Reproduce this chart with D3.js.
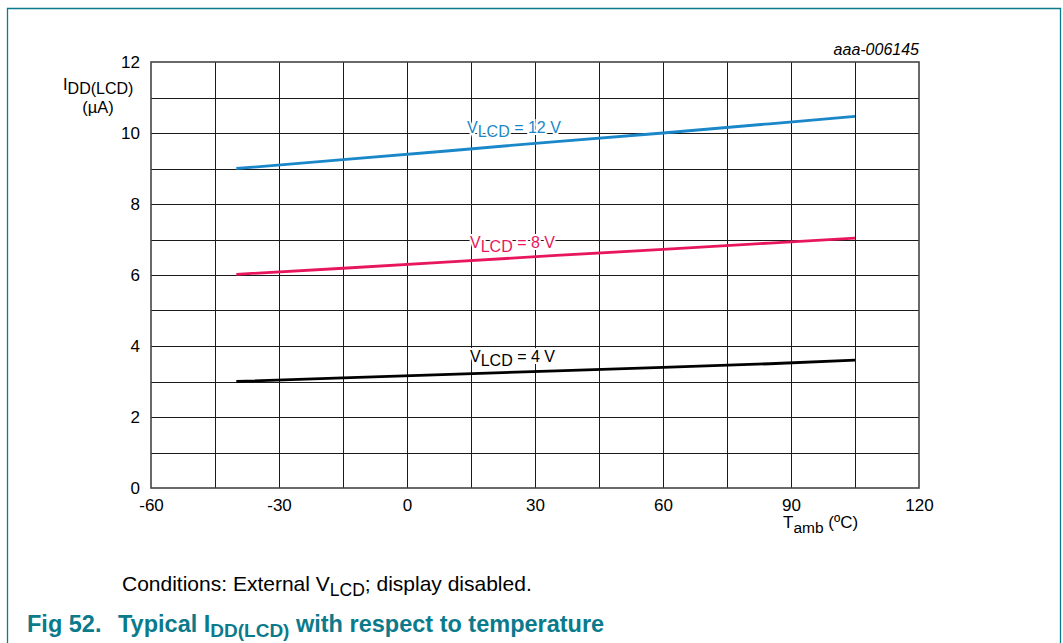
<!DOCTYPE html>
<html>
<head>
<meta charset="utf-8">
<script src="https://cdn.jsdelivr.net/npm/d3@7"></script>
<style>
  body { margin: 0; background: #fff; }
  svg { display: block; font-family: 'Liberation Sans', Arial, sans-serif; }
</style>
</head>
<body>
<div id="chart"></div>
<script>
// temperatures (ºC) and I_DD(LCD) readings (µA) for each V_LCD
const temps = [-40, -15, 10, 35, 60, 85, 105]
const v12 = [9.0, 9.25, 9.5, 9.76, 10.0, 10.26, 10.47]
const v8 = [6.02, 6.19, 6.37, 6.55, 6.72, 6.9, 7.04]
const v4 = [3.0, 3.1, 3.2, 3.3, 3.4, 3.5, 3.6]
const xTicks = [-60, -30, 0, 30, 60, 90, 120]
const yTicks = [0, 2, 4, 6, 8, 10, 12]

const series = [
  { name: '12 V', values: v12, color: '#1a87c9', lx: 467, ly: 133 },
  { name: '8 V', values: v8, color: '#e8175d', lx: 470, ly: 248 },
  { name: '4 V', values: v4, color: '#000000', lx: 470, ly: 362 }
]

const W = 1063
const H = 643
const teal = '#0b7a8b'

const svg = d3.select('#chart').append('svg')
  .attr('width', W)
  .attr('height', H)

// frame around the figure
svg.append('path')
  .attr('d', `M7.5,${H} V8.5 H1060.5 V${H}`)
  .attr('fill', 'none')
  .attr('stroke', teal)
  .attr('stroke-width', 1.3)

const x = d3.scaleLinear().domain([-60, 120]).range([151, 919])
const y = d3.scaleLinear().domain([0, 12]).range([488, 62])

const grid = svg.append('g')
grid.selectAll('line.v')
  .data(d3.range(-45, 120, 15))
  .join('line')
  .attr('x1', d => Math.round(x(d)) + 0.5)
  .attr('x2', d => Math.round(x(d)) + 0.5)
  .attr('y1', y(12))
  .attr('y2', y(0))
  .attr('stroke', '#1a1a1a')
  .attr('stroke-width', 1)
grid.selectAll('line.h')
  .data(d3.range(1, 12, 1))
  .join('line')
  .attr('x1', x(-60))
  .attr('x2', x(120))
  .attr('y1', d => Math.round(y(d)) + 0.5)
  .attr('y2', d => Math.round(y(d)) + 0.5)
  .attr('stroke', '#1a1a1a')
  .attr('stroke-width', 1)

svg.append('rect')
  .attr('x', x(-60))
  .attr('y', y(12))
  .attr('width', x(120) - x(-60))
  .attr('height', y(0) - y(12))
  .attr('fill', 'none')
  .attr('stroke', '#444')
  .attr('stroke-width', 1.6)

// axes (labels only, the grid draws the lines)
const yAxis = svg.append('g')
  .attr('transform', `translate(${x(-60)},0)`)
  .call(d3.axisLeft(y).tickValues(yTicks).tickSize(0).tickPadding(11).tickFormat(d => String(d)))
const xAxis = svg.append('g')
  .attr('transform', `translate(0,${y(0)})`)
  .call(d3.axisBottom(x).tickValues(xTicks).tickSize(0).tickPadding(11).tickFormat(d => String(d)))
yAxis.select('.domain').remove()
xAxis.select('.domain').remove()
svg.selectAll('.tick text')
  .attr('font-family', 'Liberation Sans, Arial, sans-serif')
  .attr('font-size', 17)
  .attr('fill', '#000')

const line = d3.line()
  .x((d, i) => x(temps[i]))
  .y(d => y(d))

svg.selectAll('path.series')
  .data(series)
  .join('path')
  .attr('class', 'series')
  .attr('d', d => line(d.values))
  .attr('fill', 'none')
  .attr('stroke', d => d.color)
  .attr('stroke-width', 2.8)

// series labels with white halo
series.forEach(s => {
  const t = svg.append('text')
    .attr('x', s.lx)
    .attr('y', s.ly)
    .attr('font-size', 16)
    .attr('fill', s.color)
    .attr('stroke', '#fff')
    .attr('stroke-width', 4)
    .attr('paint-order', 'stroke')
  t.append('tspan').text('V')
  t.append('tspan').attr('dy', 4).text('LCD')
  t.append('tspan').attr('dy', -4).text(' = ' + s.name)
})

// y axis title
const yt = svg.append('text')
  .attr('x', 63)
  .attr('y', 90)
  .attr('font-size', 16.5)
yt.append('tspan').text('I')
yt.append('tspan').attr('dy', 4).attr('font-size', 16).text('DD(LCD)')
svg.append('text')
  .attr('x', 98)
  .attr('y', 113)
  .attr('text-anchor', 'middle')
  .attr('font-size', 16.5)
  .text('(µA)')

// x axis title
const xt = svg.append('text')
  .attr('x', 783)
  .attr('y', 528)
  .attr('font-size', 17)
xt.append('tspan').text('T')
xt.append('tspan').attr('dy', 5).attr('font-size', 15.5).text('amb')
xt.append('tspan').attr('dy', -5).text(' (ºC)')

svg.append('text')
  .attr('x', x(120))
  .attr('y', 55)
  .attr('text-anchor', 'end')
  .attr('font-size', 16)
  .attr('font-style', 'italic')
  .text('aaa-006145')

const cond = svg.append('text')
  .attr('x', 122)
  .attr('y', 591)
  .attr('font-size', 21)
cond.append('tspan').text('Conditions: External V')
cond.append('tspan').attr('dy', 5).attr('font-size', 17.5).text('LCD')
cond.append('tspan').attr('dy', -5).text('; display disabled.')

const title = svg.append('text')
  .attr('x', 27)
  .attr('y', 632)
  .attr('font-size', 23.5)
  .attr('font-weight', 'bold')
  .attr('fill', teal)
title.append('tspan').text('Fig 52.')
title.append('tspan').attr('x', 118).text('Typical I')
title.append('tspan').attr('dy', 5).attr('font-size', 19).text('DD(LCD)')
title.append('tspan').attr('dy', -5).text(' with respect to temperature')
</script>
</body>
</html>
